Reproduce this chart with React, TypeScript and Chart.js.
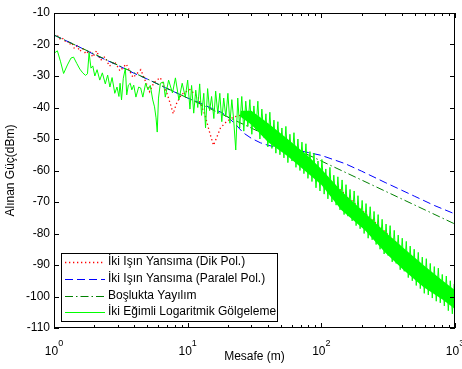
import React, { useEffect, useRef } from 'react';
import { Chart, registerables } from 'chart.js';

Chart.register(...registerables);

// ---------- tick labels ----------
const yTickValues = [-10, -20, -30, -40, -50, -60, -70, -80, -90, -100, -110];
const xMajorTicks = [1, 10, 100, 1000];
const xMajorExponents = ['0', '1', '2', '3'];
const xMinorTicks = [2, 3, 4, 5, 6, 7, 8, 9, 20, 30, 40, 50, 60, 70, 80, 90, 200, 300, 400, 500, 600, 700, 800, 900];

// ---------- series labels ----------
const labelPerp = 'İki Işın Yansıma (Dik Pol.)';
const labelPara = 'İki Işın Yansıma (Paralel Pol.)';
const labelFree = 'Boşlukta Yayılım';
const labelShadow = 'İki Eğimli Logaritmik Gölgeleme';
const xTitle = 'Mesafe (m)';
const yTitle = 'Alınan Güç(dBm)';

// ---------- two-ray, perpendicular pol. (red dotted) ----------
const perpD = [1.0, 1.04, 1.08, 1.11, 1.15, 1.2, 1.25, 1.3, 1.36, 1.42, 1.49, 1.56, 1.64, 1.73, 1.84, 1.95, 2.08, 2.23, 2.4, 2.6, 2.84, 3.12, 3.47, 3.9, 4.46, 5.2, 5.6, 6.24, 7.0, 7.5, 7.8, 8.2, 9.0, 10.4, 12.0, 13.5, 14.5, 15.6, 16.5, 17.6, 19.5, 22, 26, 31, 36, 41, 49, 55, 65, 80, 100, 150, 200, 300, 500, 700, 1000];
const perpV = [-17.0, -17.6, -17.2, -18.2, -17.8, -19.0, -18.6, -20.0, -19.4, -21.3, -20.4, -22.2, -21.2, -23.0, -22.0, -24.0, -22.0, -25.0, -23.9, -26.9, -25.4, -28.4, -26.2, -30.5, -28.0, -35.0, -32.0, -30.5, -35.5, -39.5, -42.0, -39.0, -35.8, -34.3, -36.8, -42.5, -47.5, -52.0, -49.5, -46.5, -44.5, -43.0, -42.3, -42.8, -44.8, -47.0, -49.4, -51.3, -53.8, -57.0, -60.5, -67.5, -72.5, -79.5, -88.5, -94.2, -99.5];

// ---------- two-ray, parallel pol. (blue dashed) ----------
const paraD = [1, 1.5, 2, 3, 4, 5, 6, 7, 8, 10, 12, 15, 18, 20, 23, 26, 30, 35, 40, 45, 50, 60, 70, 80, 100, 150, 200, 300, 500, 700, 1000];
const paraV = [-17, -20.5, -23.2, -26.6, -29.2, -31.0, -32.6, -34.0, -35.1, -37.0, -38.3, -40.2, -41.6, -43.0, -45.5, -48.0, -49.8, -51.2, -52.0, -52.5, -52.8, -53.3, -53.8, -54.3, -55.2, -57.8, -60.2, -63.8, -68.2, -71.1, -73.8];

// ---------- free space (green dash-dot) ----------
const freeD = [1, 10, 100, 1000];
const freeV = [-17, -37, -57, -77];

// ---------- two-slope log-normal shadowing (bright green) ----------
const shadowD = [
  1.0, 1.06, 1.12, 1.18, 1.26, 1.34, 1.4, 1.48, 1.56, 1.64, 1.72, 1.78, 1.83, 1.89, 1.95, 2.02, 2.1, 2.2, 2.3, 2.42,
  2.52, 2.62, 2.72, 2.85, 2.96, 3.06, 3.12, 3.2, 3.3, 3.42, 3.5, 3.6, 3.72, 3.82, 3.95, 4.1, 4.3, 4.45, 4.62, 4.85,
  5.05, 5.25, 5.48, 5.65, 5.8, 5.92, 6.05, 6.25, 6.6, 6.8, 7.2, 7.7, 8.1, 8.6, 9.1, 9.6, 10.0,
  10.4, 10.7, 11.1, 11.5, 11.9, 12.3, 12.7, 13.2, 13.6, 14.1, 14.6, 15.1, 15.7, 16.2, 16.8, 17.4, 18, 18.6, 19.3, 20,
  20.7, 21.4, 22.1, 22.9, 23.7, 24.5, 25.4, 26.3, 27.2, 28.2, 29.2, 30.2, 31.3, 32.4, 33.5, 34.7, 35.9, 37.2, 38.5, 39.8,
  41.2, 42.7, 44.2, 45.7, 47.3, 49, 50.7, 52.5, 54.3, 56.2, 58.2, 60.3, 62.4, 64.6, 66.8, 69.2, 71.6, 74.1, 76.7, 79.4,
  82.2, 85.1, 88.1, 91.2, 94.4, 97.7, 101, 105, 108, 112, 116, 120, 124, 129, 133, 138, 143, 148, 153, 158,
  164, 170, 176, 182, 188, 195, 202, 209, 216, 224, 232, 240, 248, 257, 266, 275, 285, 295, 305, 316,
  327, 339, 351, 363, 376, 389, 403, 417, 432, 447, 462, 479, 495, 513, 531, 550, 569, 589, 610, 631,
  653, 676, 700, 724, 750, 776, 803, 832, 861, 891, 922, 955, 988, 1000,
];
const shadowV = [
  -22.8, -22.0, -25.5, -29.2, -26.5, -24.3, -24.0, -26.0, -27.8, -29.0, -29.8, -29.3, -22.6, -27.5, -26.8, -30.0, -28.0, -31.3, -29.0, -32.5,
  -29.7, -33.5, -30.5, -35.5, -33.5, -36.5, -32.3, -37.6, -30.7, -27.5, -36.0, -32.9, -32.3, -34.4, -32.9, -36.7, -33.5, -33.8, -36.7, -32.3,
  -34.4, -33.0, -37.6, -39.8, -43.3, -47.8, -37.0, -32.3, -31.9, -36.7, -31.3, -35.4, -30.6, -37.6, -32.3, -36.7, -31.3,
  -40.5, -33.0, -41.8, -34.5, -40.0, -32.5, -42.5, -35.5, -46.5, -34.0, -41.0, -36.5, -43.5, -34.8, -42.0, -35.5, -44.5, -37.0, -43.0, -35.5,
  -45.0, -37.5, -44.0, -53.5, -37.0, -46.5, -36.5, -47.5, -38.0, -46.0, -37.5, -48.5, -39.5, -47.0, -38.0, -50.0, -40.5, -49.5, -42.0, -52.5,
  -41.5, -53.0, -44.0, -54.5, -44.5, -55.0, -46.5, -56.0, -46.0, -57.5, -48.5, -57.0, -48.0, -59.0, -50.0, -60.0, -51.0, -61.0, -51.5, -62.5,
  -54.0, -63.5, -54.5, -65.5, -57.0, -66.5, -56.5, -67.5, -59.5, -69.0, -59.0, -70.0, -61.5, -71.0, -62.0, -72.5, -63.0, -74.0, -64.5, -74.5,
  -66.0, -76.0, -66.5, -77.5, -68.0, -78.5, -69.5, -80.0, -70.5, -81.5, -71.5, -82.0, -73.0, -83.5, -74.0, -85.0, -75.5, -86.5, -77.0, -87.0,
  -77.5, -89.0, -79.0, -89.5, -80.5, -91.5, -81.5, -92.0, -82.5, -94.0, -84.0, -95.0, -85.0, -96.5, -86.0, -97.5, -87.5, -99.0, -88.0, -99.5,
  -89.5, -100.5, -90.5, -101.5, -91.0, -102.0, -93.0, -103.0, -93.5, -104.5, -95.0, -105.5, -96.0, -106.0,
];

// dense core of the shadowing trace (upper / lower edge of the solid band)
const bandD = [25, 30, 40, 56, 80, 100, 141, 212, 300, 410, 580, 810, 1000];
const bandTop = [-41.0, -41.0, -45.0, -50.0, -55.5, -59.5, -66.5, -73.5, -79.5, -84.5, -90.0, -95.0, -98.0];
const bandBottom = [-43.0, -45.5, -51.0, -55.5, -61.0, -64.5, -72.5, -79.0, -86.0, -91.5, -97.0, -101.0, -104.0];

const FONT = '"Liberation Sans", Arial, Helvetica, sans-serif';

const pts = (d: number[], v: number[]) => d.map((x, i) => ({ x, y: v[i] }));

const matlabAxes = {
  id: 'matlabAxes',
  afterDatasetsDraw(chart: any) {
    const { ctx, chartArea: a, scales } = chart;
    const xs = scales.x;
    const ys = scales.y;
    ctx.save();
    ctx.setLineDash([]);
    ctx.strokeStyle = '#000';
    ctx.lineWidth = 1;
    // ticks
    ctx.beginPath();
    for (const v of yTickValues) {
      const py = Math.round(ys.getPixelForValue(v)) + 0.5;
      ctx.moveTo(a.left, py); ctx.lineTo(a.left + 5, py);
      ctx.moveTo(a.right, py); ctx.lineTo(a.right - 5, py);
    }
    for (const d of xMajorTicks) {
      const px = Math.round(xs.getPixelForValue(d)) + 0.5;
      ctx.moveTo(px, a.bottom); ctx.lineTo(px, a.bottom - 5);
      ctx.moveTo(px, a.top); ctx.lineTo(px, a.top + 5);
    }
    for (const d of xMinorTicks) {
      const px = Math.round(xs.getPixelForValue(d)) + 0.5;
      ctx.moveTo(px, a.bottom); ctx.lineTo(px, a.bottom - 3);
      ctx.moveTo(px, a.top); ctx.lineTo(px, a.top + 3);
    }
    ctx.stroke();
    // box
    ctx.strokeRect(a.left + 0.5, a.top + 0.5, a.right - a.left - 1, a.bottom - a.top - 1);

    // y tick labels
    ctx.fillStyle = '#000';
    ctx.font = `12px ${FONT}`;
    ctx.textAlign = 'right';
    ctx.textBaseline = 'middle';
    for (const v of yTickValues) {
      ctx.fillText(String(v), a.left - 4, ys.getPixelForValue(v));
    }
    // x tick labels 10^n
    ctx.textBaseline = 'alphabetic';
    ctx.textAlign = 'left';
    xMajorTicks.forEach((d, i) => {
      const px = xs.getPixelForValue(d);
      ctx.font = `12px ${FONT}`;
      const wb = ctx.measureText('10').width;
      ctx.font = `9px ${FONT}`;
      const we = ctx.measureText(xMajorExponents[i]).width;
      const x0 = px - (wb + we) / 2;
      ctx.font = `12px ${FONT}`;
      ctx.fillText('10', x0, 355);
      ctx.font = `9px ${FONT}`;
      ctx.fillText(xMajorExponents[i], x0 + wb, 346);
    });
    // axis titles
    ctx.font = `12px ${FONT}`;
    ctx.textAlign = 'center';
    ctx.textBaseline = 'middle';
    ctx.fillText(xTitle, (a.left + a.right) / 2, 357);
    ctx.save();
    ctx.translate(11, (a.top + a.bottom) / 2);
    ctx.rotate(-Math.PI / 2);
    ctx.fillText(yTitle, 0, 0);
    ctx.restore();

    // legend box
    const lx = 61, ly = 253, lw = 217, lh = 69;
    ctx.fillStyle = '#fff';
    ctx.fillRect(lx, ly, lw, lh);
    ctx.strokeStyle = '#000';
    ctx.strokeRect(lx + 0.5, ly + 0.5, lw - 1, lh - 1);
    const order = [labelPerp, labelPara, labelFree, labelShadow];
    const rows = [262, 279, 295.5, 312];
    order.forEach((lab, i) => {
      const ds = chart.data.datasets.find((s: any) => s.label === lab);
      const y = Math.round(rows[i]) + 0.5;
      ctx.beginPath();
      ctx.strokeStyle = ds.borderColor;
      ctx.lineWidth = ds.borderWidth;
      ctx.setLineDash(ds.borderDash || []);
      ctx.moveTo(65, y);
      ctx.lineTo(105, y);
      ctx.stroke();
      ctx.setLineDash([]);
      ctx.fillStyle = '#000';
      ctx.font = `12px ${FONT}`;
      ctx.textAlign = 'left';
      ctx.textBaseline = 'middle';
      ctx.fillText(lab, 108, rows[i]);
    });
    ctx.restore();
  },
};

export default function App() {
  const ref = useRef<HTMLCanvasElement>(null);
  useEffect(() => {
    const canvas = ref.current;
    if (!canvas) return;
    const chart = new Chart(canvas, {
      type: 'line',
      data: {
        datasets: [
          { label: labelShadow, data: pts(shadowD, shadowV), borderColor: '#00ff00', borderWidth: 1, fill: false, order: 0 },
          { label: 'bandTop', data: pts(bandD, bandTop), borderColor: 'rgba(0,0,0,0)', borderWidth: 0, backgroundColor: '#00ff00', fill: '+1', order: 1 },
          { label: 'bandBottom', data: pts(bandD, bandBottom), borderColor: 'rgba(0,0,0,0)', borderWidth: 0, fill: false, order: 2 },
          { label: labelFree, data: pts(freeD, freeV), borderColor: '#008000', borderWidth: 1, borderDash: [8, 3, 1.5, 3], fill: false, order: 3 },
          { label: labelPara, data: pts(paraD, paraV), borderColor: '#0000ff', borderWidth: 1, borderDash: [8, 4], fill: false, order: 4 },
          { label: labelPerp, data: pts(perpD, perpV), borderColor: '#ff0000', borderWidth: 1.3, borderDash: [1.3, 2.7], fill: false, order: 5 },
        ] as any,
      },
      options: {
        responsive: false,
        animation: false,
        devicePixelRatio: 1,
        layout: { padding: { left: 54, right: 7, top: 13, bottom: 41 } },
        elements: { point: { radius: 0, hoverRadius: 0 }, line: { tension: 0 } },
        scales: {
          x: { type: 'logarithmic', min: 1, max: 1000, display: false },
          y: { type: 'linear', min: -110, max: -10, display: false },
        },
        plugins: { legend: { display: false }, tooltip: { enabled: false } },
        events: [],
      } as any,
      plugins: [matlabAxes],
    });
    return () => chart.destroy();
  }, []);
  return (
    <div style={{ position: 'absolute', left: 0, top: 0, width: 462, height: 369, background: '#fff' }}>
      <canvas ref={ref} width={462} height={369} style={{ display: 'block', width: 462, height: 369 }} />
    </div>
  );
}
